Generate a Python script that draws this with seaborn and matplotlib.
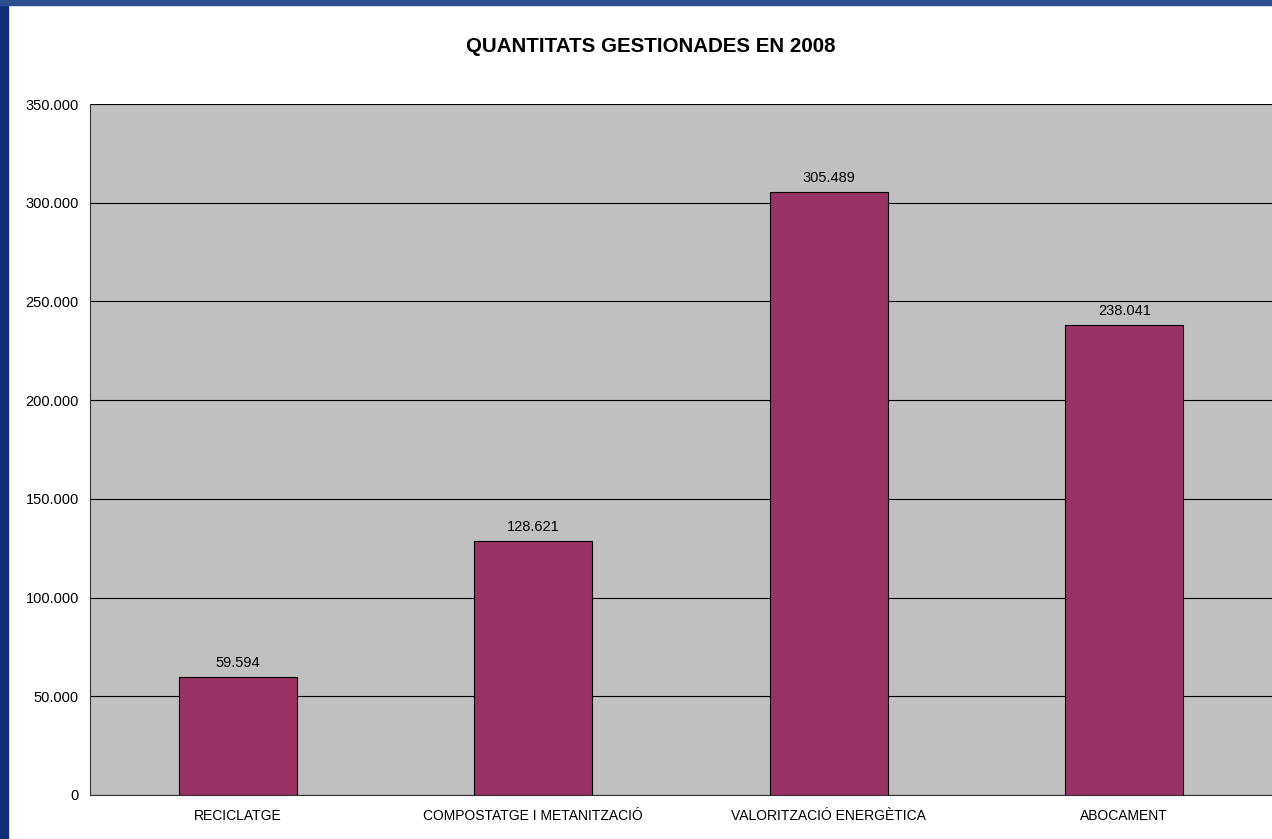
import pandas as pd
import numpy as np
import seaborn as sns
import matplotlib.pyplot as plt
from matplotlib.patches import Rectangle
from matplotlib.ticker import FuncFormatter, FixedLocator

# Data
categories = ['RECICLATGE', 'COMPOSTATGE I METANITZACIÓ', 'VALORITZACIÓ ENERGÈTICA', 'ABOCAMENT']
values = [59594, 128621, 305489, 238041]
title = 'QUANTITATS GESTIONADES EN 2008'

df = pd.DataFrame({'categoria': categories, 'tones': values})

sns.set_style('white')
plt.rcParams['font.family'] = ['Liberation Sans', 'DejaVu Sans']
plt.rcParams['text.color'] = 'black'


# Format numbers with dot as thousands separator
def dot_fmt(v, pos=None):
    return f"{int(round(v)):,}".replace(',', '.')


fig = plt.figure(figsize=(12.72, 8.39), dpi=100)
fig.patch.set_facecolor('white')

# Blue frame on the left and top edges
fig.patches.append(Rectangle((0, 0), 8 / 1272, 1, transform=fig.transFigure, color='#10317a', zorder=0))
fig.patches.append(Rectangle((0, 1 - 5 / 839), 1, 5 / 839, transform=fig.transFigure, color='#2d4f92', zorder=0))

ax = fig.add_axes([90 / 1272, 1 - 795 / 839, 1 - 90 / 1272, (795 - 104) / 839])
ax.set_facecolor('#c0c0c0')

sns.barplot(data=df, x='categoria', y='tones', color='#993366', width=0.4,
            edgecolor='black', linewidth=0.8, saturation=1, ax=ax, zorder=3)

ax.set_ylim(0, 350000)
ax.set_xlim(-0.5, len(categories) - 0.5)
ax.set_yticks(np.arange(0, 350001, 50000))
ax.yaxis.set_major_formatter(FuncFormatter(dot_fmt))
ax.yaxis.grid(True, color='black', linewidth=0.8, zorder=1)
ax.set_axisbelow(True)

# tick marks between categories, labels centered
ax.xaxis.set_minor_locator(FixedLocator(np.arange(-0.5, len(categories), 1.0)))
ax.tick_params(axis='x', which='major', length=0, pad=10, labelsize=10, labelcolor='black')
ax.tick_params(axis='x', which='minor', length=5, width=0.8, color='#333333')
ax.tick_params(axis='y', which='major', length=5, width=0.8, color='#333333',
               labelsize=10.5, labelcolor='black', pad=3)
ax.set_xlabel('')
ax.set_ylabel('')

for s in ['top', 'right']:
    ax.spines[s].set_visible(False)
for s in ['left', 'bottom']:
    ax.spines[s].set_color('#333333')
    ax.spines[s].set_linewidth(0.8)

# value labels above bars
for i, v in enumerate(values):
    ax.text(i, v + 3500, dot_fmt(v), ha='center', va='bottom', fontsize=10.5, color='black')

fig.text(651 / 1272, 1 - 47 / 839, title, ha='center', va='center', fontsize=14.8,
         fontweight='bold', color='black')

fig.savefig('out.png', dpi=100)
